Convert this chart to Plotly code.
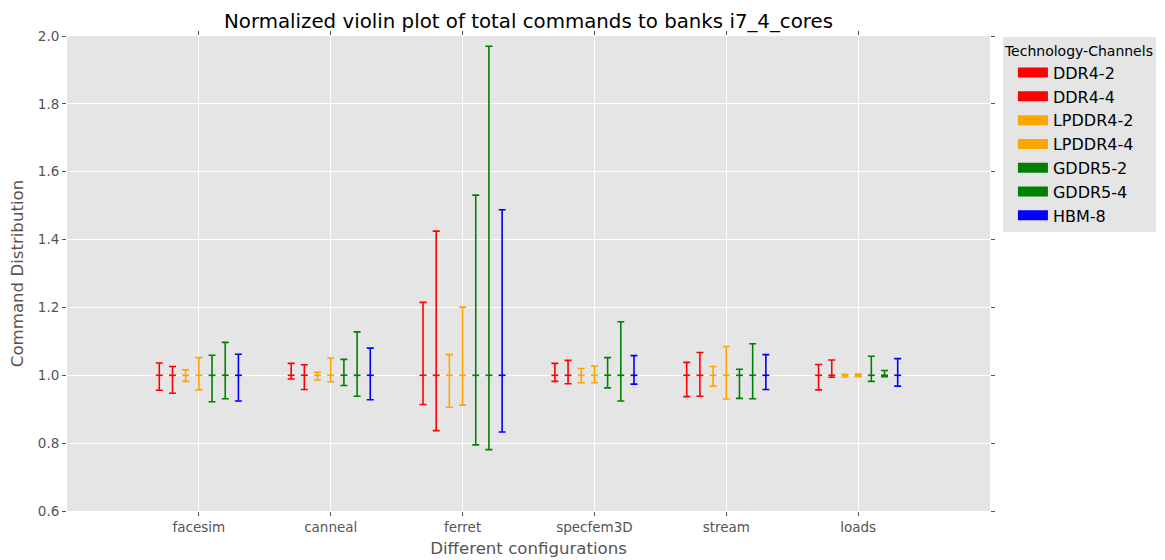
import plotly.graph_objects as go

categories = ["facesim", "canneal", "ferret", "specfem3D", "stream", "loads"]
series = ["DDR4-2", "DDR4-4", "LPDDR4-2", "LPDDR4-4", "GDDR5-2", "GDDR5-4", "HBM-8"]
colors = ["#ff0000", "#ff0000", "#ffa500", "#ffa500", "#008000", "#008000", "#0000ff"]

medians = {s: [1.0, 1.0, 1.0, 1.0, 1.0, 1.0] for s in series}
maxima = {
    "DDR4-2":   [1.036, 1.035, 1.215, 1.035, 1.038, 1.032],
    "DDR4-4":   [1.026, 1.031, 1.425, 1.044, 1.067, 1.045],
    "LPDDR4-2": [1.016, 1.009, 1.061, 1.020, 1.026, 1.003],
    "LPDDR4-4": [1.052, 1.051, 1.201, 1.027, 1.085, 1.004],
    "GDDR5-2":  [1.059, 1.047, 1.531, 1.052, 1.018, 1.056],
    "GDDR5-4":  [1.097, 1.128, 1.970, 1.158, 1.093, 1.014],
    "HBM-8":    [1.062, 1.080, 1.488, 1.058, 1.061, 1.049],
}
minima = {
    "DDR4-2":   [0.956, 0.989, 0.914, 0.982, 0.937, 0.957],
    "DDR4-4":   [0.947, 0.958, 0.837, 0.975, 0.938, 0.994],
    "LPDDR4-2": [0.982, 0.986, 0.906, 0.978, 0.968, 0.995],
    "LPDDR4-4": [0.957, 0.981, 0.912, 0.978, 0.930, 0.996],
    "GDDR5-2":  [0.922, 0.970, 0.795, 0.963, 0.932, 0.982],
    "GDDR5-4":  [0.931, 0.938, 0.781, 0.924, 0.931, 0.996],
    "HBM-8":    [0.924, 0.928, 0.833, 0.974, 0.958, 0.968],
}

fig = go.Figure()
n = len(series)
for i, s in enumerate(series):
    off = (i - (n - 1) / 2) * 0.1
    xs = [g + 1 + off for g in range(len(categories))]
    med = medians[s]
    fig.add_trace(go.Scatter(
        x=xs, y=med, mode="markers", showlegend=False, name=s,
        marker=dict(symbol="line-ew", size=5, line=dict(color=colors[i], width=1.6)),
        error_y=dict(type="data", symmetric=False,
                     array=[mx - m for mx, m in zip(maxima[s], med)],
                     arrayminus=[m - mn for mn, m in zip(minima[s], med)],
                     color=colors[i], thickness=1.6, width=3.5),
    ))
for i, s in enumerate(series):
    fig.add_trace(go.Scatter(
        x=[None], y=[None], mode="lines", name=s,
        line=dict(color=colors[i], width=10), showlegend=True,
    ))

W, H = 1157, 552  # page body has an 8px margin
fig.update_layout(
    width=W, height=H,
    margin=dict(l=59, r=175, t=28, b=49, autoexpand=False),
    paper_bgcolor="white", plot_bgcolor="#e5e5e5",
    font=dict(family="DejaVu Sans", color="#555555", size=13.5),
    title=dict(text="Normalized violin plot of total commands to banks i7_4_cores",
               x=520.5 / W, xanchor="center", y=1 - 13 / H, yanchor="middle",
               font=dict(size=19.8, color="black")),
    legend=dict(title=dict(text="Technology-Channels", font=dict(size=14, color="black")),
                x=1.014, xanchor="left", y=0.997, yanchor="top",
                bgcolor="#e5e5e5", borderwidth=0, indentation=10,
                font=dict(size=16, color="black"), itemwidth=30),
    xaxis=dict(range=[0, 7], tickvals=[g + 1 for g in range(len(categories))],
               ticktext=categories, showgrid=True, gridcolor="white", gridwidth=1.2,
               zeroline=False, ticks="outside", ticklen=4, tickcolor="#555555",
               mirror="ticks", automargin=False,
               title=dict(text="Different configurations", font=dict(size=16.6, color="#555555"),
                          standoff=8)),
    yaxis=dict(range=[0.6, 2.0], dtick=0.2, tickformat=".1f", showgrid=True,
               gridcolor="white", gridwidth=1.2, zeroline=False, ticks="outside",
               ticklen=4, tickcolor="#555555", mirror="ticks", automargin=False,
               title=dict(text="Command Distribution", font=dict(size=16.6, color="#555555"),
                          standoff=10)),
)

fig.write_html("out.html")
